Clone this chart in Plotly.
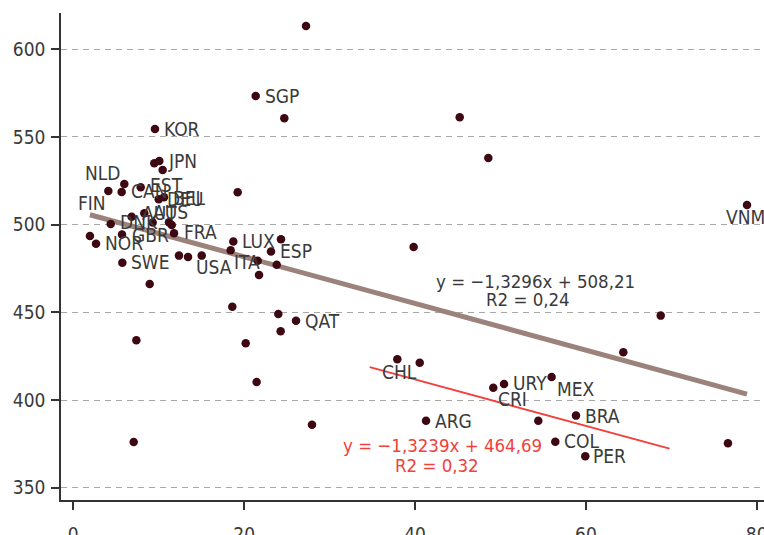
import plotly.graph_objects as go

# Country observations: x = share indicator, y = mean score
x_vals = [27.24, 21.35, 24.70, 9.56, 9.48, 10.07, 10.46, 4.10, 5.66, 5.97,
          7.89, 10.00, 10.62, 19.24, 4.38, 6.83, 8.31, 9.29, 11.20, 11.52,
          11.79, 1.95, 2.66, 5.70, 5.74, 8.94, 12.37, 13.43, 15.03, 18.73,
          18.42, 21.58, 21.74, 24.31, 23.14, 23.81, 18.61, 24.00, 26.07, 24.27,
          20.18, 21.46, 27.94, 7.07, 7.38, 45.23, 48.58, 39.84, 68.76, 78.86,
          37.93, 40.55, 64.38, 49.16, 50.42, 55.99, 58.84, 54.43, 41.29, 56.42,
          59.93, 76.63]
y_vals = [613.2, 573.3, 560.6, 554.5, 534.9, 536.3, 531.1, 519.2, 518.6, 523.1,
          521.3, 514.4, 515.6, 518.4, 500.3, 504.5, 506.4, 501.2, 501.3, 499.8,
          495.0, 493.5, 489.1, 494.3, 478.3, 466.1, 482.3, 481.5, 482.3, 490.3,
          485.3, 479.4, 471.3, 491.6, 484.6, 477.1, 453.2, 449.0, 445.2, 439.2,
          432.3, 410.3, 385.9, 376.1, 434.0, 561.2, 538.0, 487.2, 448.1, 511.2,
          423.2, 421.2, 427.2, 407.0, 409.1, 413.1, 391.1, 388.2, 388.2, 376.2,
          367.9, 375.3]
country_labels = ["", "SGP", "", "KOR", "", "JPN", "", "NLD", "CAN", "",
                  "EST", "DEU", "BEL", "", "DNK", "AUT", "AUS", "", "", "",
                  "FRA", "FIN", "NOR", "GBR", "SWE", "", "", "", "USA", "LUX",
                  "ITA", "", "", "", "ESP", "", "", "", "QAT", "",
                  "", "", "", "", "", "", "", "", "", "VNM",
                  "CHL", "", "", "CRI", "URY", "MEX", "BRA", "", "ARG", "COL",
                  "PER", ""]

# Fitted lines (all countries / Latin American subgroup)
all_slope, all_intercept, all_r2 = -1.3296, 508.21, 0.24
latam_slope, latam_intercept, latam_r2 = -1.3239, 464.69, 0.32
latam_fit_range = [34.7, 69.8]

x_ticks = [0, 20, 40, 60, 80]
y_ticks = [350, 400, 450, 500, 550, 600]

# Label placement: (pixel shift x to left edge, pixel shift y up)
label_shift = {
    "SGP": (8, 0), "KOR": (8, 0), "JPN": (8, 0), "NLD": (-24, 18),
    "CAN": (8, 1), "EST": (8, 2), "DEU": (7, 0), "BEL": (8, -1),
    "DNK": (8, 2), "AUT": (9, 4), "AUS": (8, 1), "FRA": (9, 1),
    "FIN": (-13, 33), "NOR": (8, 1), "GBR": (9, 0), "SWE": (8, 1),
    "USA": (-7, -11), "LUX": (8, 1), "ITA": (2, -12), "ESP": (8, 1),
    "QAT": (8, 0), "VNM": (-22, -12), "CHL": (-16, -13), "CRI": (4, -11),
    "URY": (8, 1), "MEX": (4, -12), "BRA": (8, 0), "ARG": (8, 0),
    "COL": (8, 1), "PER": (7, 0),
}

FONT = "DejaVu Sans Condensed, DejaVu Sans, sans-serif"
TEXT = "#3a3a3a"
RED = "#f2403a"

fig = go.Figure()

fit_x = [min(x_vals), max(x_vals)]
fig.add_trace(go.Scatter(
    x=fit_x, y=[all_slope * v + all_intercept for v in fit_x],
    mode="lines", line=dict(color="#9b837c", width=5),
    hoverinfo="skip", showlegend=False))

fig.add_trace(go.Scatter(
    x=latam_fit_range, y=[latam_slope * v + latam_intercept for v in latam_fit_range],
    mode="lines", line=dict(color=RED, width=2),
    hoverinfo="skip", showlegend=False))

fig.add_trace(go.Scatter(
    x=x_vals, y=y_vals, mode="markers",
    marker=dict(color="#3d0812", size=8.5, line=dict(width=0)),
    showlegend=False))

annotations = []
for xv, yv, lab in zip(x_vals, y_vals, country_labels):
    if not lab:
        continue
    dx, dy = label_shift[lab]
    annotations.append(dict(
        x=xv, y=yv, text=lab, showarrow=False, xanchor="left", yanchor="middle",
        xshift=dx - 1, yshift=dy, font=dict(family=FONT, size=19, color=TEXT)))

def fmt(v, nd):
    return f"{v:.{nd}f}".replace(".", ",")

eq_all = f"y = \u2212{fmt(abs(all_slope), 4)}x + {fmt(all_intercept, 2)}"
eq_latam = f"y = \u2212{fmt(abs(latam_slope), 4)}x + {fmt(latam_intercept, 2)}"

annotations += [
    dict(x=54.14, y=467.5, text=eq_all, showarrow=False, xanchor="center",
         yanchor="middle", font=dict(family=FONT, size=18.5, color=TEXT)),
    dict(x=53.17, y=457.3, text=f"R2 = {fmt(all_r2, 2)}", showarrow=False,
         xanchor="center", yanchor="middle", font=dict(family=FONT, size=18.5, color=TEXT)),
    dict(x=43.22, y=373.8, text=eq_latam, showarrow=False, xanchor="center",
         yanchor="middle", font=dict(family=FONT, size=18.5, color=RED)),
    dict(x=42.54, y=362.9, text=f"R2 = {fmt(latam_r2, 2)}", showarrow=False,
         xanchor="center", yanchor="middle", font=dict(family=FONT, size=18.5, color=RED)),
]

fig.update_layout(
    width=764, height=535,
    margin=dict(l=61, r=0, t=13, b=35, autoexpand=False),
    plot_bgcolor="white", paper_bgcolor="white",
    font=dict(family=FONT, size=19, color=TEXT),
    annotations=annotations,
    xaxis=dict(range=[-1.44, 80.85], tickvals=x_ticks, ticks="outside", ticklen=8,
               tickwidth=1.5, tickcolor="#333", showline=True, linecolor="#333",
               linewidth=1.5, showgrid=False, zeroline=False, ticklabelstandoff=8,
               automargin=False, ticklabeloverflow="allow"),
    yaxis=dict(range=[343.0, 620.6], tickvals=y_ticks, ticks="outside", ticklen=8,
               tickwidth=1.5, tickcolor="#333", showline=True, linecolor="#333",
               linewidth=1.5, showgrid=True, gridcolor="#a8a8a8", gridwidth=1.3,
               griddash="6px,5px", zeroline=False, ticklabelstandoff=2,
               automargin=False),
)

fig.write_html("out.html")
